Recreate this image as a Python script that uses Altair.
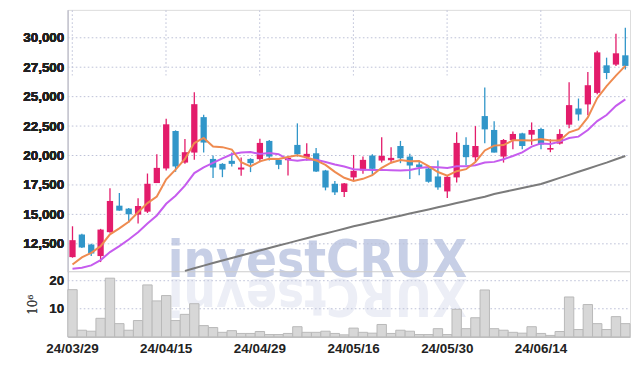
import altair as alt
import pandas as pd

dates = ["24/03/29", "24/04/01", "24/04/02", "24/04/03", "24/04/04", "24/04/05", "24/04/08", "24/04/09",
         "24/04/11", "24/04/12", "24/04/15", "24/04/16", "24/04/17", "24/04/18", "24/04/19", "24/04/22",
         "24/04/23", "24/04/24", "24/04/25", "24/04/26", "24/04/29", "24/04/30", "24/05/02", "24/05/03",
         "24/05/07", "24/05/08", "24/05/09", "24/05/10", "24/05/13", "24/05/14", "24/05/16", "24/05/17",
         "24/05/20", "24/05/21", "24/05/22", "24/05/23", "24/05/24", "24/05/27", "24/05/28", "24/05/29",
         "24/05/30", "24/05/31", "24/06/03", "24/06/04", "24/06/05", "24/06/07", "24/06/10", "24/06/11",
         "24/06/12", "24/06/13", "24/06/14", "24/06/17", "24/06/18", "24/06/19", "24/06/20", "24/06/21",
         "24/06/24", "24/06/25", "24/06/26", "24/06/27"]

opens = [11370, 13290, 12440, 11460, 13490, 15740, 15490, 14980, 15230, 17660,
         18900, 22080, 19400, 20250, 23260, 19710, 19290, 19550, 18810, 19710,
         19690, 21240, 19630, 19600, 20900, 19880, 20190, 18730, 17600, 16900,
         18140, 18730, 20000, 19570, 19600, 20810, 19910, 19240, 18900, 18220,
         16950, 18140, 20900, 19850, 23350, 22170, 19910, 21320, 21880, 21770,
         22250, 20500, 21010, 22620, 24000, 24340, 25320, 27660, 27720, 28510]
highs = [13990, 13350, 12500, 13770, 17210, 16810, 15540, 16360, 18470, 20110,
         23120, 22140, 21400, 25380, 23460, 20000, 19350, 20250, 19830, 19770,
         21430, 21320, 19690, 19910, 22730, 21040, 20640, 18780, 17830, 17660,
         20050, 19910, 20110, 21550, 20700, 21240, 20140, 19490, 18950, 19570,
         18280, 21970, 21550, 22500, 25770, 22900, 21400, 22050, 21940, 22810,
         22360, 21380, 22220, 26220, 24840, 27100, 28900, 28310, 30340, 30850]
lows = [11320, 12150, 11460, 10950, 13430, 15300, 14280, 14220, 15120, 17660,
        18730, 18620, 19290, 19630, 20250, 18080, 18160, 19070, 18280, 18590,
        19430, 19570, 18840, 18310, 19910, 19570, 18590, 17040, 16640, 16470,
        17880, 18450, 18280, 19400, 19350, 19350, 18000, 18330, 17690, 17090,
        16390, 17710, 19180, 19490, 21040, 20250, 19400, 20530, 20530, 20900,
        20530, 20280, 20930, 22310, 22960, 23410, 25210, 26480, 27600, 27300]
closes = [12810, 12190, 11680, 13710, 16140, 15320, 15010, 15710, 17600, 18950,
          22650, 19070, 20280, 24360, 21100, 18980, 18810, 19290, 18980, 19350,
          21070, 19910, 19210, 19800, 20110, 20140, 18640, 17290, 16870, 17630,
          18700, 19630, 18870, 19970, 19800, 19770, 19150, 19010, 17770, 17290,
          18190, 21070, 19860, 20810, 22220, 20250, 21320, 21830, 20810, 22170,
          20930, 20640, 21830, 24280, 23490, 25970, 28760, 27010, 28680, 27610]
volumes = [16.8, 2.35, 2.0, 6.6, 20.9, 4.7, 2.35, 5.8, 18.5, 12.8,
           14.7, 5.8, 8.0, 11.8, 4.0, 3.3, 1.6, 2.2, 1.2, 1.2,
           1.9, 0.8, 0.8, 1.2, 3.6, 1.6, 1.6, 2.0, 1.2, 0.7,
           3.1, 1.6, 1.3, 4.4, 1.2, 2.35, 2.0, 0.8, 0.8, 2.9,
           0.8, 9.8, 2.9, 6.8, 16.7, 2.9, 2.35, 1.6, 1.3, 3.6,
           1.2, 0.5, 1.9, 14.2, 2.6, 11.5, 4.7, 2.6, 7.2, 4.7]
ma5 = [10750, 11350, 11740, 12300, 13310, 13810, 14370, 15180, 15960, 16520,
       17980, 18800, 19710, 21060, 21490, 20760, 20710, 20510, 19430, 19080,
       19500, 19720, 19700, 19870, 20020, 19830, 19580, 19200, 18610, 18110,
       17830, 18020, 18340, 18960, 19390, 19610, 19510, 19540, 19100, 18600,
       18280, 18670, 18840, 19440, 20430, 20840, 20890, 21290, 21290, 21280,
       21410, 21280, 21280, 21970, 22230, 23240, 24870, 25900, 26780, 27610]
ma10 = [10390, 10470, 10670, 11120, 11800, 12300, 12870, 13490, 14220, 14910,
        15900, 16580, 17440, 18510, 19000, 19370, 19750, 20110, 20250, 20290,
        20130, 20210, 20110, 19650, 19550, 19670, 19650, 19450, 19240, 19070,
        18830, 18800, 18770, 18780, 18750, 18720, 18770, 18940, 19030, 19000,
        18950, 19090, 19090, 19170, 19410, 19460, 19680, 19960, 20270, 20750,
        21030, 20980, 21180, 21480, 21600, 22170, 22920, 23440, 24220, 24770]
ma60 = [None] * 12 + [10200, 10430, 10650, 10870, 11080, 11300, 11510, 11720,
                      11930, 12140, 12350, 12560, 12770, 12980, 13180, 13380, 13580, 13780,
                      13990, 14170, 14350, 14530, 14710, 14890, 15070, 15250, 15420, 15600,
                      15780, 15960, 16140, 16320, 16500, 16730, 16900, 17070, 17240, 17410,
                      17580, 17840, 18100, 18360, 18620, 18880, 19140, 19400, 19680, 19960]
label_dates = ["24/03/29", "24/04/15", "24/04/29", "24/05/16", "24/05/30", "24/06/14"]
price_ticks = [12500, 15000, 17500, 20000, 22500, 25000, 27500, 30000]
volume_ticks = [10, 20]

df = pd.DataFrame({"date": dates, "open": opens, "high": highs, "low": lows, "close": closes,
                   "volume": volumes, "ma5": ma5, "ma10": ma10, "ma60": ma60})
df["dir"] = ["up" if c >= o else "down" for o, c in zip(opens, closes)]

W, H = 564, 328
CB = 262.7
FONT = "Liberation Sans, Arial, sans-serif"
GRID = "#bec2d8"
DASH = [1.6, 2.4]
WMFONT = "DejaVu Sans Condensed, DejaVu Sans, sans-serif"

xenc = alt.X("date:O", sort=dates, scale=alt.Scale(paddingInner=0, paddingOuter=0),
             axis=alt.Axis(values=label_dates, labelAngle=0, title=None, grid=True,
                           labelPadding=5, domainColor="#bbbbbb"))

yscale = alt.Scale(domain=[10130, 32370], range=[CB, 0], nice=False, zero=False)
yaxis = alt.Axis(values=price_ticks, format=",.0f", formatType="number", title=None, grid=False, orient="left")
vscale = alt.Scale(domain=[0, 23.2], range=[H, CB], nice=False)
vaxis = alt.Axis(values=volume_ticks, orient="left", title="10⁶", grid=False,
                 titleFont="DejaVu Serif", titleFontWeight="normal", titleFontSize=12,
                 titleColor="#444444", titlePadding=9)
color = alt.Color("dir:N", scale=alt.Scale(domain=["up", "down"], range=["#e31c6b", "#3196c9"]), legend=None)


def yc(field):
    return alt.Y(field, type="quantitative", scale=yscale, axis=yaxis, title=None)


def yv(field):
    return alt.Y(field, type="quantitative", scale=vscale, axis=vaxis)


base = alt.Chart(df)
gridc = alt.Chart(pd.DataFrame({"low": price_ticks})).mark_rule(
    color=GRID, strokeDash=DASH, strokeWidth=1).encode(
    y=yc("low"), x=alt.value(0), x2=alt.value(W))
wicks = base.mark_rule(strokeWidth=1.3).encode(x=xenc, y=yc("low"), y2="high:Q", color=color)
bodies = base.mark_bar(size=6.3).encode(x=xenc, y=yc("open"), y2="close:Q", color=color)
l60 = base.mark_line(color="#7b7b7b", strokeWidth=2).encode(x=xenc, y=yc("ma60"))
l10 = base.mark_line(color="#c65cee", strokeWidth=2).encode(x=xenc, y=yc("ma10"))
l5 = base.mark_line(color="#ef8b50", strokeWidth=2).encode(x=xenc, y=yc("ma5"))

gridv = alt.Chart(pd.DataFrame({"volume": volume_ticks})).mark_rule(
    color=GRID, strokeDash=DASH, strokeWidth=1).encode(y=yv("volume"), x=alt.value(0), x2=alt.value(W))
vbars = base.mark_bar(color="#d7d7d7", stroke="#b9b9b9", strokeWidth=1).encode(x=xenc, y=yv("volume"))

one = pd.DataFrame({"t": ["investCRUX"], "r": ["XURCtsevni"]})
wm = alt.Chart(one).mark_text(font=WMFONT, fontSize=51, fontWeight="bold", color="#c7cfe6",
                              align="center", baseline="alphabetic").encode(
    x=alt.value(250.5), y=alt.value(268), text="t:N")
wm_ref = alt.Chart(one).mark_text(font=WMFONT, fontSize=51, fontWeight="bold", color="#eceef6",
                                  align="center", baseline="alphabetic", angle=180).encode(
    x=alt.value(250.5), y=alt.value(270), text="r:N")
sep = alt.Chart(one).mark_rule(color="#cccccc", strokeWidth=1.2).encode(
    x=alt.value(0), x2=alt.value(W), y=alt.value(CB))

chart = alt.layer(wm_ref, wm, gridv, vbars, sep, gridc, l60, wicks, bodies, l10, l5).resolve_scale(
    y="independent").properties(
    width=W, height=H, autosize=alt.AutoSizeParams(type="none"), background="white",
    padding={"left": 60, "top": 1.3, "right": 4, "bottom": 28}
).configure_view(stroke="#dddddd", strokeWidth=1).configure_axis(
    labelFont=FONT, labelFontSize=13.5, labelFontWeight="bold", labelColor="#222222",
    ticks=False, labelPadding=4, gridDash=DASH, gridColor=GRID, gridWidth=1,
    domainColor="#c8c8d2"
)

chart.save("out.html", embed_options={"renderer": "svg", "actions": False})
